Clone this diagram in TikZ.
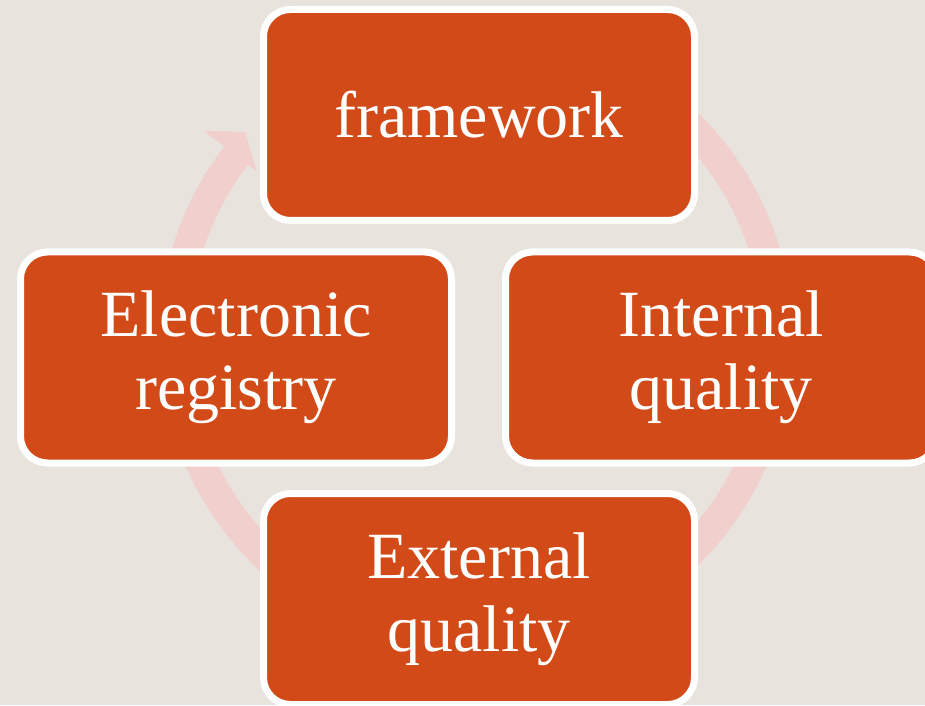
\documentclass[tikz,border=0pt]{standalone}
\usepackage{fontspec}
\setmainfont{Liberation Serif}
\usetikzlibrary{calc}
\definecolor{bgc}{RGB}{232,228,221}
\definecolor{boxc}{RGB}{210,74,23}
\definecolor{ringc}{RGB}{240,207,204}
\tikzset{
  cyclebox/.style={draw=white, line width=7pt, fill=boxc, rounded corners=27pt,
    minimum width=431pt, minimum height=211pt, inner sep=0pt, align=center,
    text=white, font=\fontsize{66}{73}\selectfont},
  ringstyle/.style={draw=ringc, line width=30pt},
}
\begin{document}
\begin{tikzpicture}[x=1pt,y=1pt]
\fill[bgc] (0,0) rectangle (925,705);
\useasboundingbox (0,0) rectangle (925,705);
\coordinate (c) at (476,366);
\draw[ringstyle] ($(c)+(85:302)$) arc[start angle=85, end angle=-217.8, radius=302];
\fill[ringc] ($(c)+(142.6:276)$) -- ($(c)+(138.1:310)$) -- ($(c)+(142.6:343)$) -- cycle;
\node[cyclebox] (top) at (479,590) {framework};
\node[cyclebox] (right) at (721,347.5) {Internal\\quality};
\node[cyclebox] (bottom) at (479,106) {External\\quality};
\node[cyclebox] (left) at (236,347.5) {Electronic\\registry};
\end{tikzpicture}
\end{document}
